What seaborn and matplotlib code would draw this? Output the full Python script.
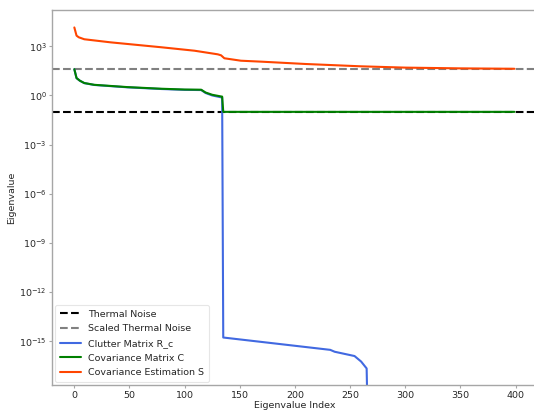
import numpy as np
import pandas as pd
import matplotlib
matplotlib.use("Agg")
import matplotlib.pyplot as plt
import seaborn as sns

# Noise floors
thermal_noise = 0.1
scaled_thermal_noise = 40.0

# Eigenvalue spectra (index, value) along each curve
clutter_idx = [0, 2, 5, 9, 18, 48, 79, 100, 115, 119, 125, 133, 134,
               135, 232, 236, 254, 260, 265, 266]
clutter_val = [39.9, 11.4, 7.9, 5.65, 4.37, 3.14, 2.47, 2.2, 2.14, 1.41, 1.0, 0.77, 0.75,
               1.7e-15, 3.0e-16, 2.3e-16, 1.26e-16, 5.8e-17, 2.2e-17, 1e-20]

cov_idx = [0, 2, 5, 9, 18, 48, 79, 100, 115, 119, 125, 133, 134, 135, 399]
cov_val = [40.0, 11.5, 8.0, 5.75, 4.47, 3.24, 2.57, 2.3, 2.24, 1.51, 1.1, 0.87, 0.85, 0.1, 0.1]

est_idx = [0, 2, 4, 9, 33, 79, 109, 130, 133, 136, 151, 170, 210, 260, 300, 350, 399]
est_val = [14100, 4470, 3550, 2690, 1740, 871, 537, 324, 282, 186, 132, 115, 83, 60, 50, 45, 42.5]

xticks = [0, 50, 100, 150, 200, 250, 300, 350, 400]
yticks = [1e-15, 1e-12, 1e-9, 1e-6, 1e-3, 1e0, 1e3]

sns.set_style("white")
plt.rcParams["font.family"] = ["DejaVu Sans"]
plt.rcParams["axes.edgecolor"] = "#a6a6a6"
plt.rcParams["axes.linewidth"] = 1.0

fs = 6.8
fig = plt.figure(figsize=(5.34, 4.15), dpi=100)
ax = fig.add_axes([0.098, 0.0723, 0.9066, 0.9029])
ax.spines["right"].set_visible(False)

ax.axhline(thermal_noise, color="black", ls="--", lw=1.5, label="Thermal Noise")
ax.axhline(scaled_thermal_noise, color="gray", ls="--", lw=1.5, label="Scaled Thermal Noise")

clutter = pd.DataFrame({"idx": clutter_idx, "val": clutter_val})
cov = pd.DataFrame({"idx": cov_idx, "val": cov_val})
est = pd.DataFrame({"idx": est_idx, "val": est_val})

sns.lineplot(data=clutter, x="idx", y="val", ax=ax, color="royalblue", lw=1.5,
             label="Clutter Matrix R_c")
sns.lineplot(data=cov, x="idx", y="val", ax=ax, color="green", lw=1.5,
             label="Covariance Matrix C")
sns.lineplot(data=est, x="idx", y="val", ax=ax, color="orangered", lw=1.5,
             label="Covariance Estimation S")

ax.set_yscale("log")
ax.set_xlim(-19.95, 418.95)
ax.set_ylim(10 ** -17.667, 10 ** 5.197)
ax.set_xticks(xticks)
ax.yaxis.set_major_locator(matplotlib.ticker.FixedLocator(yticks))
ax.yaxis.set_minor_locator(matplotlib.ticker.NullLocator())

ax.tick_params(axis="both", which="major", labelsize=fs, length=2, width=0.8,
               color="#a6a6a6", labelcolor="#262626", pad=2,
               bottom=True, left=True)
ax.set_xlabel("Eigenvalue Index", fontsize=fs, color="#262626", labelpad=1)
ax.set_ylabel("Eigenvalue", fontsize=fs, color="#262626", labelpad=2)

leg = ax.legend(loc="lower left", fontsize=fs, frameon=True, handlelength=2.2,
                borderpad=0.5, labelspacing=0.6, borderaxespad=0.3)
leg.get_frame().set_edgecolor("#e0e0e0")
leg.get_frame().set_linewidth(0.8)

fig.savefig("out.png", dpi=100)
